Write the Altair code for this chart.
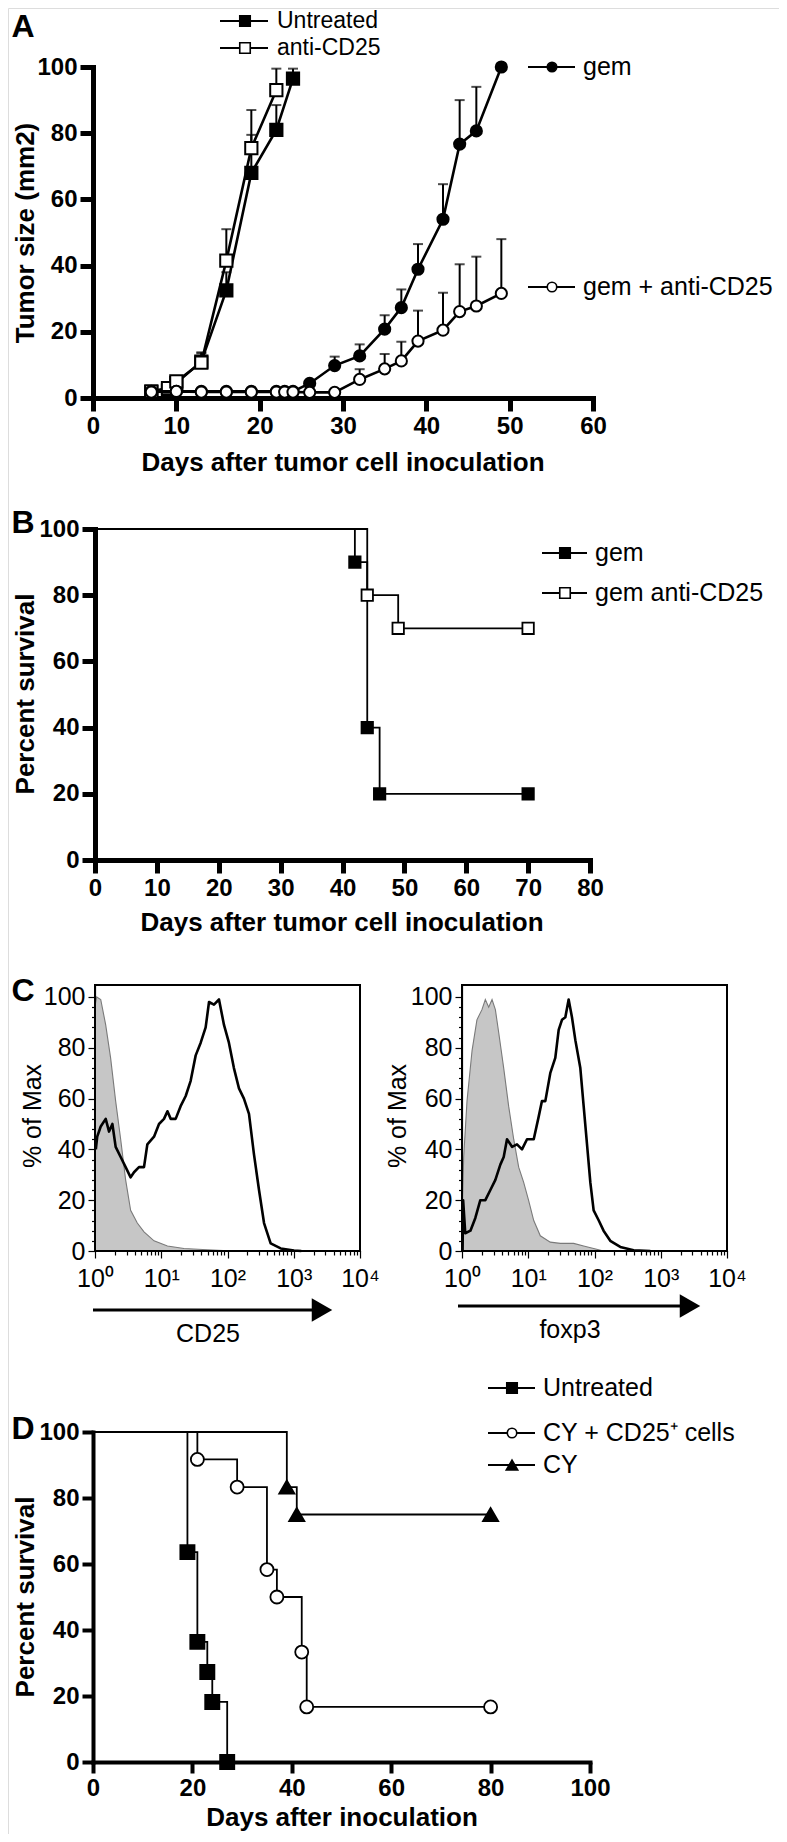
import altair as alt
import pandas as pd

FONT = "Liberation Sans"
W, H = 771, 1826
MARGIN = 8  # page margin (reference pixel -> chart pixel)


def px(v):
    return v - MARGIN


# ---------------- Panel A: tumor growth ----------------
a_untreated_day = [7, 9, 10, 13, 16, 19, 22, 24]
a_untreated_size = [1.8, 2.2, 4.5, 11.0, 32.5, 68.0, 81.0, 96.5]
a_untreated_top = [1.8, 2.2, 4.5, 13.5, 38.0, 79.5, 88.5, 99.5]
a_anti_day = [7, 9, 10, 13, 16, 19, 22]
a_anti_size = [2.0, 3.0, 5.0, 10.7, 41.5, 75.5, 93.0]
a_anti_top = [2.0, 3.0, 5.0, 13.8, 51.0, 87.0, 99.5]
a_gem_day = [7, 10, 13, 16, 19, 22, 23, 24, 26, 29, 32, 35, 37, 39, 42, 44, 46, 49]
a_gem_size = [2.0, 2.0, 2.0, 2.0, 2.0, 2.0, 2.0, 2.0, 4.4, 9.8, 12.7, 20.8, 27.3, 38.9, 54.0, 76.7, 80.7, 100.0]
a_gem_top = [2.0, 2.0, 2.0, 2.0, 2.0, 2.0, 2.0, 2.0, 4.4, 12.5, 16.2, 25.0, 32.8, 46.5, 64.6, 90.0, 94.0, 100.0]
a_gemanti_day = [7, 10, 13, 16, 19, 22, 23, 24, 26, 29, 32, 35, 37, 39, 42, 44, 46, 49]
a_gemanti_size = [1.8, 2.0, 1.8, 1.8, 1.8, 1.8, 1.8, 1.8, 1.7, 1.7, 5.6, 8.8, 11.2, 17.2, 20.5, 26.1, 27.8, 31.6]
a_gemanti_top = [1.8, 2.0, 1.8, 1.8, 1.8, 1.8, 1.8, 1.8, 1.7, 1.7, 8.7, 13.3, 17.0, 26.4, 31.8, 40.4, 42.7, 48.0]
a_labels = ["Untreated", "anti-CD25", "gem", "gem + anti-CD25"]
a_ticks_x = [0, 10, 20, 30, 40, 50, 60]
a_ticks_y = [0, 20, 40, 60, 80, 100]

# ---------------- Panel B: survival ----------------
b_gem_day = [0, 42, 44, 46, 70]
b_gem_surv = [100, 90, 40, 20, 20]
b_anti_day = [0, 44, 49, 70]
b_anti_surv = [100, 80, 70, 70]
b_labels = ["gem", "gem anti-CD25"]
b_ticks_x = [0, 10, 20, 30, 40, 50, 60, 70, 80]
b_ticks_y = [0, 20, 40, 60, 80, 100]

# ---------------- Panel C: flow histograms ----------------
c_cd25_ctrl_x = [1.01, 1.06, 1.22, 1.45, 1.72, 2.05, 2.44, 2.90, 3.45, 4.35, 5.49, 7.78, 12.4, 22.0, 49.6, 125.0]
c_cd25_ctrl_y = [97, 100, 99, 89, 76, 59, 44, 28, 16, 11, 7.5, 4, 2, 1, 0.5, 0]
c_cd25_stain_x = [1.03, 1.08, 1.22, 1.45, 1.63, 1.83, 2.05, 2.44, 2.90, 3.45, 3.88, 4.61, 5.49, 6.17,
                  7.78, 9.25, 11.0, 12.4, 13.9, 16.5, 19.6, 23.4, 27.8, 33.1, 39.4, 46.8, 52.6, 62.5,
                  74.4, 88.5, 105.0, 125.0, 149.0, 177.0, 211.0, 251.0, 299.0, 356.0, 448.0, 635.0, 1009.0, 1300.0]
c_cd25_stain_y = [40, 45, 49, 52, 47, 50, 41, 37, 33, 29, 31, 33, 33, 42, 45, 50, 52, 55, 52, 52, 57,
                  61, 67, 77, 82, 88, 98, 97, 99, 89, 82, 72, 64, 60, 54, 38, 24, 11, 3, 1, 0.2, 0]
c_foxp3_ctrl_x = [1.02, 1.06, 1.19, 1.42, 1.68, 2.00, 2.25, 2.53, 2.84, 3.19, 3.58, 4.26, 5.06, 6.03,
                  7.17, 8.53, 10.1, 12.1, 15.2, 21.5, 30.5, 48.5, 68.6, 97.1, 137.0]
c_foxp3_ctrl_y = [20, 37, 59, 79, 91, 95, 99, 96, 99, 95, 86, 72, 57, 44, 33, 27, 20, 12, 6, 3.5, 3, 3, 2, 1, 0]
c_foxp3_stain_x = [1.02, 1.04, 1.12, 1.34, 1.59, 1.89, 2.25, 2.68, 3.19, 3.79, 4.26, 4.78, 5.69, 6.76,
                   8.05, 9.58, 12.1, 14.4, 16.1, 18.1, 21.5, 25.6, 28.8, 32.3, 36.3, 40.7, 45.7, 51.4,
                   61.1, 68.6, 77.1, 86.5, 97.1, 116.0, 137.0, 173.0, 245.0, 390.0, 697.0]
c_foxp3_stain_y = [0, 20, 7, 8, 13, 20, 20, 24, 28, 34, 37, 44, 41, 42, 40, 44, 44, 53, 59, 59, 70, 76,
                   87, 91, 92, 99, 92, 83, 72, 57, 42, 27, 16, 12, 8, 4, 1.6, 0.3, 0]
c_markers = ["CD25", "foxp3"]
c_ticks_x = [1, 10, 100, 1000, 10000]
c_minor_x = [2, 3, 4, 5, 6, 7, 8, 9, 20, 30, 40, 50, 60, 70, 80, 90,
             200, 300, 400, 500, 600, 700, 800, 900, 2000, 3000, 4000, 5000, 6000, 7000, 8000, 9000]
c_ticks_y = [0, 20, 40, 60, 80, 100]
c_minor_y = [4, 8, 12, 16, 24, 28, 32, 36, 44, 48, 52, 56, 64, 68, 72, 76, 84, 88, 92, 96]
c_ymax = 104.7

# ---------------- Panel D: survival ----------------
d_untr_day = [0, 19, 21, 23, 24, 27]
d_untr_surv = [100, 63.6, 36.4, 27.3, 18.2, 0]
d_cycd_day = [0, 21, 29, 35, 37, 42, 43, 80]
d_cycd_surv = [100, 91.7, 83.3, 58.3, 50, 33.3, 16.7, 16.7]
d_cy_day = [0, 39, 41, 80]
d_cy_surv = [100, 83.3, 75, 75]
d_labels = ["Untreated", "CY + CD25\u207a cells", "CY"]
d_ticks_x = [0, 20, 40, 60, 80, 100]
d_ticks_y = [0, 20, 40, 60, 80, 100]


# ---------------- helpers ----------------
def axis(orient, offset, values, size, bold, tick, width, pad, labels=True, domain=True, expr=None):
    kw = dict(orient=orient, offset=offset, values=values, title=None, grid=False,
              labelFont=FONT, labelFontSize=size, labelFontWeight="bold" if bold else "normal",
              labelColor="black", tickColor="black", domainColor="black",
              tickSize=tick, tickWidth=width, domainWidth=width, labelPadding=pad,
              labelFlush=False, labelOverlap=False, labels=labels, domain=domain,
              domainCap="square")
    if expr:
        kw["labelExpr"] = expr
    return alt.Axis(**kw)


def text(label, x, y, size, bold=False, angle=None, align="center"):
    kw = dict(font=FONT, fontSize=size, fontWeight="bold" if bold else "normal",
              color="black", align=align, baseline="middle")
    if angle is not None:
        kw["angle"] = angle
    return alt.Chart(pd.DataFrame({"t": [label]})).mark_text(**kw).encode(
        text="t:N", x=alt.value(px(x)), y=alt.value(px(y)))


def legend_entry(label, y, x0, x1, xm, xt, shape, fill, msize, lw=2, fsize=25):
    base = alt.Chart(pd.DataFrame({"label": [label]}))
    line = base.mark_rule(color="black", strokeWidth=lw).encode(
        x=alt.value(px(x0)), x2=alt.value(px(x1)), y=alt.value(px(y)))
    pt = base.mark_point(shape=shape, filled=True, fill=fill, stroke="black", strokeWidth=1.6,
                         size=msize, opacity=1).encode(x=alt.value(px(xm)), y=alt.value(px(y)))
    txt = base.mark_text(font=FONT, fontSize=fsize, align="left", baseline="middle", color="black").encode(
        text="label:N", x=alt.value(px(xt)), y=alt.value(px(y)))
    return [line, pt, txt]


layers = []

# ---------------- Panel A build ----------------
sAx = alt.Scale(domain=[0, 60], range=[px(93), px(593)], nice=False, zero=False)
sAy = alt.Scale(domain=[0, 100], range=[px(398), px(67)], nice=False, zero=False)
axAx = axis("bottom", px(398) - H, a_ticks_x, 24, True, 13, 5, 3)
axAy = axis("left", -px(93), a_ticks_y, 24, True, 13, 5, 3)


def AX(f):
    return alt.X(f, type="quantitative", scale=sAx, axis=axAx)


def AY(f):
    return alt.Y(f, type="quantitative", scale=sAy, axis=axAy)


a_series = [
    (a_untreated_day, a_untreated_size, a_untreated_top, "square", "black", 150),
    (a_anti_day, a_anti_size, a_anti_top, "square", "white", 150),
    (a_gem_day, a_gem_size, a_gem_top, "circle", "black", 125),
    (a_gemanti_day, a_gemanti_size, a_gemanti_top, "circle", "white", 125),
]
a_parts = []
for day, val, top, shape, fill, size in a_series:
    df = pd.DataFrame({"day": day, "val": val, "top": top})
    err = df[df["top"] > df["val"]]
    a_parts.append(alt.Chart(df).mark_line(color="black", strokeWidth=2.6).encode(x=AX("day"), y=AY("val")))
    a_parts.append(alt.Chart(err).mark_rule(color="black", strokeWidth=2).encode(x=AX("day"), y=AY("val"), y2="top"))
    a_parts.append(alt.Chart(err).mark_tick(orient="horizontal", size=10, thickness=2, color="black").encode(
        x=AX("day"), y=AY("top")))
    a_parts.append(alt.Chart(df).mark_point(shape=shape, filled=True, fill=fill, stroke="black",
                                            strokeWidth=2, size=size, opacity=1).encode(x=AX("day"), y=AY("val")))
layers.append(alt.layer(*a_parts))

# ---------------- Panel B build ----------------
sBx = alt.Scale(domain=[0, 80], range=[px(95), px(590)], nice=False, zero=False)
sBy = alt.Scale(domain=[0, 100], range=[px(860), px(529)], nice=False, zero=False)
axBx = axis("bottom", px(860) - H, b_ticks_x, 24, True, 13, 5, 3)
axBy = axis("left", -px(95), b_ticks_y, 24, True, 13, 5, 3)


def BX(f):
    return alt.X(f, type="quantitative", scale=sBx, axis=axBx)


def BY(f):
    return alt.Y(f, type="quantitative", scale=sBy, axis=axBy)


b_parts = []
for day, surv, fill in [(b_gem_day, b_gem_surv, "black"), (b_anti_day, b_anti_surv, "white")]:
    df = pd.DataFrame({"day": day, "surv": surv})
    b_parts.append(alt.Chart(df).mark_line(color="black", strokeWidth=1.8, interpolate="step-after").encode(
        x=BX("day"), y=BY("surv")))
    b_parts.append(alt.Chart(df[df["day"] > 0]).mark_point(shape="square", filled=True, fill=fill, stroke="black",
                                                           strokeWidth=1.8, size=130, opacity=1).encode(
        x=BX("day"), y=BY("surv")))
layers.append(alt.layer(*b_parts))


# ---------------- Panel C build ----------------
def histogram(x0, x1, ctrl_x, ctrl_y, stain_x, stain_y):
    sx = alt.Scale(type="log", domain=[1, 10000], range=[px(x0), px(x1)], nice=False)
    sy = alt.Scale(domain=[0, c_ymax], range=[px(1251), px(985)], nice=False, zero=True)
    supers = "['\u2070','\u00b9','\u00b2','\u00b3','\u2074'][round(log(datum.value)/LN10)]"
    axx = axis("bottom", px(1251) - H, c_ticks_x, 25, False, 7, 1.2, 8, expr="'10' + " + supers)
    axy = axis("left", -px(x0), c_ticks_y, 25, False, 7, 1.2, 3)
    mx = axis("bottom", px(1251) - H, c_minor_x, 10, False, 4, 1.2, 2, labels=False, domain=False)
    my = axis("left", -px(x0), c_minor_y, 10, False, 3.5, 1.2, 2, labels=False, domain=False)
    ctrl = pd.DataFrame({"v": ctrl_x, "p": ctrl_y})
    stain = pd.DataFrame({"v": stain_x, "p": stain_y})
    X = lambda: alt.X("v", type="quantitative", scale=sx, axis=axx)
    Y = lambda: alt.Y("p", type="quantitative", scale=sy, axis=axy)
    frame = alt.Chart(ctrl).mark_rect(fillOpacity=0, stroke="black", strokeWidth=1.2).encode(
        x=alt.XDatum(1, type="quantitative", scale=sx, axis=axx),
        x2=alt.X2Datum(10000),
        y=alt.YDatum(0, type="quantitative", scale=sy, axis=axy),
        y2=alt.Y2Datum(c_ymax))
    area = alt.Chart(ctrl).mark_area(color="#c6c6c6", stroke="#7a7a7a", strokeWidth=1.1, opacity=1).encode(
        x=X(), y=Y())
    line = alt.Chart(stain).mark_line(color="black", strokeWidth=2.6, strokeJoin="round").encode(x=X(), y=Y())
    major = alt.layer(area, line, frame)
    minor = alt.Chart(ctrl).mark_point(opacity=0).encode(
        x=alt.X("v", type="quantitative", scale=sx, axis=mx),
        y=alt.Y("p", type="quantitative", scale=sy, axis=my))
    return [major, minor]


layers += histogram(95, 360, c_cd25_ctrl_x, c_cd25_ctrl_y, c_cd25_stain_x, c_cd25_stain_y)
layers += histogram(462, 727, c_foxp3_ctrl_x, c_foxp3_ctrl_y, c_foxp3_stain_x, c_foxp3_stain_y)

# ---------------- Panel D build ----------------
sDx = alt.Scale(domain=[0, 100], range=[px(93), px(590)], nice=False, zero=False)
sDy = alt.Scale(domain=[0, 100], range=[px(1762), px(1432)], nice=False, zero=False)
axDx = axis("bottom", px(1762) - H, d_ticks_x, 24, True, 11, 4, 3)
axDy = axis("left", -px(93), d_ticks_y, 24, True, 11, 4, 3)


def DX(f):
    return alt.X(f, type="quantitative", scale=sDx, axis=axDx)


def DY(f):
    return alt.Y(f, type="quantitative", scale=sDy, axis=axDy)


d_parts = []
for day, surv, shape, fill, size in [(d_untr_day, d_untr_surv, "square", "black", 200),
                                     (d_cycd_day, d_cycd_surv, "circle", "white", 170),
                                     (d_cy_day, d_cy_surv, "triangle-up", "black", 230)]:
    df = pd.DataFrame({"day": day, "surv": surv})
    d_parts.append(alt.Chart(df).mark_line(color="black", strokeWidth=1.8, interpolate="step-after").encode(
        x=DX("day"), y=DY("surv")))
    d_parts.append(alt.Chart(df[df["day"] > 0]).mark_point(shape=shape, filled=True, fill=fill, stroke="black",
                                                           strokeWidth=1.8, size=size, opacity=1).encode(
        x=DX("day"), y=DY("surv")))
layers.append(alt.layer(*d_parts))

# ---------------- annotations: titles, letters, legends, arrows ----------------
ann = []
ann.append(text("A", 23, 27, 32, bold=True))
ann.append(text("Tumor size (mm2)", 26, 233, 26, bold=True, angle=270))
ann.append(text("Days after tumor cell inoculation", 343, 463, 26, bold=True))
ann += legend_entry(a_labels[0], 21, 220, 268, 245, 277, "square", "black", 110, fsize=23)
ann += legend_entry(a_labels[1], 48, 220, 268, 245, 277, "square", "white", 110, fsize=23)
ann += legend_entry(a_labels[2], 67, 528, 575, 552, 583, "circle", "black", 90)
ann += legend_entry(a_labels[3], 287, 528, 575, 552, 583, "circle", "white", 90)

ann.append(text("B", 23, 523, 32, bold=True))
ann.append(text("Percent survival", 26, 694, 26, bold=True, angle=270))
ann.append(text("Days after tumor cell inoculation", 342, 923, 26, bold=True))
ann += legend_entry(b_labels[0], 553, 542, 587, 565, 595, "square", "black", 110, lw=1.8)
ann += legend_entry(b_labels[1], 593, 542, 587, 565, 595, "square", "white", 110, lw=1.8)

ann.append(text("C", 23, 991, 32, bold=True))
ann.append(text("% of Max", 33, 1116, 25, angle=270))
ann.append(text("% of Max", 398, 1116, 25, angle=270))
for x0, x1, xh, y, xl, yl, lab in [(93, 312, 322, 1310, 208, 1334, c_markers[0]),
                                    (458, 680, 690, 1306, 570, 1330, c_markers[1])]:
    base = alt.Chart(pd.DataFrame({"t": [lab]}))
    ann.append(base.mark_rule(color="black", strokeWidth=3).encode(
        x=alt.value(px(x0)), x2=alt.value(px(x1)), y=alt.value(px(y))))
    ann.append(base.mark_point(shape="triangle-right", filled=True, color="black", size=560, opacity=1).encode(
        x=alt.value(px(xh)), y=alt.value(px(y))))
    ann.append(text(lab, xl, yl, 25))

ann.append(text("D", 23, 1429, 32, bold=True))
ann.append(text("Percent survival", 26, 1597, 26, bold=True, angle=270))
ann.append(text("Days after inoculation", 342, 1818, 26, bold=True))
ann += legend_entry(d_labels[0], 1388, 488, 535, 512, 543, "square", "black", 110)
ann += legend_entry(d_labels[1], 1433, 488, 535, 512, 543, "circle", "white", 90)
ann += legend_entry(d_labels[2], 1465, 488, 535, 512, 543, "triangle-up", "black", 130)

layers += ann

chart = alt.layer(*layers).resolve_scale(
    x="independent", y="independent"
).resolve_axis(
    x="independent", y="independent"
).properties(
    width=W, height=H, autosize=alt.AutoSizeParams(type="none"), padding=0
).configure_view(strokeWidth=0).configure(background="white")

chart.save("out.html", embed_options={"renderer": "svg", "actions": False})
